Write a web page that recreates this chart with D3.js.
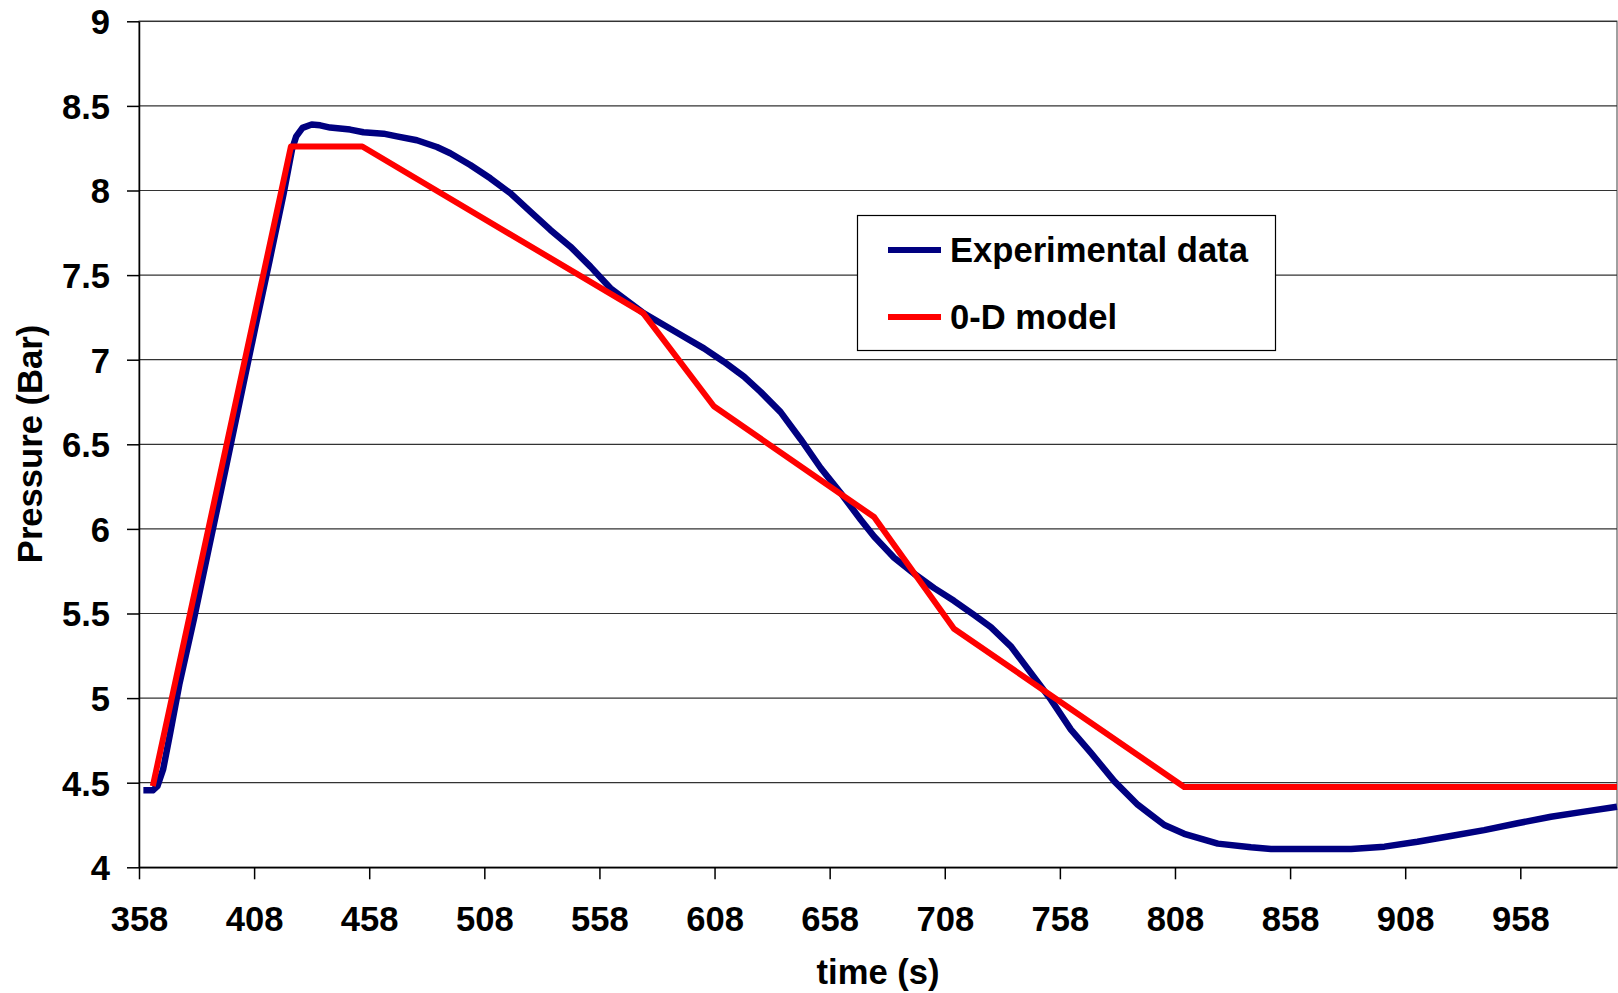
<!DOCTYPE html>
<html>
<head>
<meta charset="utf-8">
<script src="https://cdn.jsdelivr.net/npm/d3@7"></script>
<style>
  body { margin: 0; background: #fff; }
  svg { display: block; font-family: "Liberation Sans", Arial, sans-serif; font-weight: bold; }
</style>
</head>
<body>
<div id="chart"></div>
<script>
// data
var expTime = [359.9, 364, 366, 368.5, 371.5, 375.5, 382, 388.5, 395.5, 402, 408.5, 414.7, 420.8, 424.5, 426.3, 429, 433, 436.7, 441, 449.7, 455.5, 464.2, 470, 478.7, 487.4, 493.2, 501.9, 510.6, 519.3, 528, 536.7, 545.4, 554.1, 562.8, 571.5, 577.3, 586, 594.7, 603.4, 612, 620.8, 628, 636.7, 645.4, 654.1, 662.8, 671.5, 677.3, 686, 694.7, 703.4, 712, 720.7, 728, 736.7, 745.4, 754.1, 762.8, 771.5, 781.7, 791.8, 797.6, 803.4, 812, 826.6, 841, 849.7, 884.5, 899, 913.3, 927.8, 942.3, 956.8, 971.3, 985.8, 1000];
var expPressure = [4.455, 4.455, 4.48, 4.58, 4.79, 5.08, 5.476, 5.897, 6.346, 6.768, 7.19, 7.585, 7.98, 8.244, 8.32, 8.37, 8.39, 8.385, 8.372, 8.36, 8.344, 8.336, 8.32, 8.297, 8.257, 8.22, 8.151, 8.072, 7.984, 7.875, 7.767, 7.668, 7.55, 7.422, 7.333, 7.274, 7.205, 7.136, 7.067, 6.988, 6.9, 6.81, 6.69, 6.53, 6.36, 6.212, 6.054, 5.955, 5.83, 5.735, 5.65, 5.575, 5.492, 5.42, 5.306, 5.149, 4.991, 4.814, 4.676, 4.508, 4.37, 4.31, 4.25, 4.198, 4.14, 4.118, 4.108, 4.108, 4.122, 4.151, 4.185, 4.22, 4.26, 4.299, 4.329, 4.358];

var modelTime = [364, 424, 455, 577, 607.7, 677.3, 712, 812, 1000];
var modelPressure = [4.48, 8.26, 8.26, 7.275, 6.725, 6.07, 5.41, 4.475, 4.475];

var xTicks = [358, 408, 458, 508, 558, 608, 658, 708, 758, 808, 858, 908, 958];
var yTicks = [4, 4.5, 5, 5.5, 6, 6.5, 7, 7.5, 8, 8.5, 9];

var seriesNames = ["Experimental data", "0-D model"];
var seriesColors = ["#000080", "#ff0000"];

var svgWidth = 1618;
var svgHeight = 993;
var margin = { top: 21.3, right: 1, bottom: 125.7, left: 139 };
var width = svgWidth - margin.left - margin.right;
var height = svgHeight - margin.top - margin.bottom;
var fontSize = "34.6px";

var svg = d3.select("#chart")
  .append("svg")
  .attr("width", svgWidth)
  .attr("height", svgHeight);

var chartGroup = svg.append("g")
  .attr("transform", `translate(${margin.left}, ${margin.top})`);

// scales
var xScale = d3.scaleLinear().domain([358, 1000]).range([0, width]);
var yScale = d3.scaleLinear().domain([4, 9]).range([height, 0]);

// plot area border (grey, like excel)
chartGroup.append("rect")
  .attr("x", 0)
  .attr("y", 0)
  .attr("width", width)
  .attr("height", height)
  .attr("fill", "none")
  .attr("stroke", "#808080")
  .attr("stroke-width", 1.5);

// horizontal grid lines
chartGroup.append("g")
  .selectAll("line")
  .data(yTicks)
  .enter()
  .append("line")
  .attr("x1", 0)
  .attr("x2", width)
  .attr("y1", d => yScale(d))
  .attr("y2", d => yScale(d))
  .attr("stroke", "#333")
  .attr("stroke-width", 1.2);

// axes
var xAxis = d3.axisBottom(xScale).tickValues(xTicks).tickSize(12).tickSizeOuter(0).tickPadding(27);
var yAxis = d3.axisLeft(yScale).tickValues(yTicks).tickSize(12).tickSizeOuter(0).tickPadding(17)
  .tickFormat(d3.format("~g"));

var xAxisGroup = chartGroup.append("g")
  .attr("transform", `translate(0, ${height})`)
  .call(xAxis);
var yAxisGroup = chartGroup.append("g")
  .call(yAxis);

[xAxisGroup, yAxisGroup].forEach(function(g) {
  g.selectAll("path, line").attr("stroke", "#000").attr("stroke-width", 1.5);
  g.selectAll("text")
    .attr("fill", "#000")
    .style("font-size", fontSize)
    .style("font-weight", "bold")
    .style("font-family", "'Liberation Sans', Arial, sans-serif");
});
yAxisGroup.selectAll("text").attr("dy", "0.36em");
xAxisGroup.selectAll("text").attr("dy", "0.71em");

// lines
var line = d3.line()
  .x(d => xScale(d[0]))
  .y(d => yScale(d[1]));

var expData = expTime.map((t, i) => [t, expPressure[i]]);
var modelData = modelTime.map((t, i) => [t, modelPressure[i]]);

chartGroup.append("path")
  .datum(expData)
  .attr("d", line)
  .attr("fill", "none")
  .attr("stroke", seriesColors[0])
  .attr("stroke-width", 6.5)
  .attr("stroke-linejoin", "round");

chartGroup.append("path")
  .datum(modelData)
  .attr("d", line)
  .attr("fill", "none")
  .attr("stroke", seriesColors[1])
  .attr("stroke-width", 6)
  .attr("stroke-linejoin", "round");

// axis titles
svg.append("text")
  .attr("x", margin.left + width / 2)
  .attr("y", 984)
  .attr("text-anchor", "middle")
  .style("font-size", fontSize)
  .text("time (s)");

svg.append("text")
  .attr("transform", "translate(42, 444) rotate(-90)")
  .attr("text-anchor", "middle")
  .style("font-size", fontSize)
  .text("Pressure (Bar)");

// legend
var legend = svg.append("g");
legend.append("rect")
  .attr("x", 857.5)
  .attr("y", 215.5)
  .attr("width", 418)
  .attr("height", 135)
  .attr("fill", "#fff")
  .attr("stroke", "#000")
  .attr("stroke-width", 1.2);

var legendItems = legend.selectAll(".item")
  .data(seriesNames)
  .enter()
  .append("g")
  .attr("transform", (d, i) => `translate(888, ${250 + i * 67})`);

legendItems.append("line")
  .attr("x1", 0)
  .attr("x2", 53)
  .attr("stroke", (d, i) => seriesColors[i])
  .attr("stroke-width", 6);

legendItems.append("text")
  .attr("x", 62)
  .attr("dy", "0.36em")
  .style("font-size", fontSize)
  .text(d => d);
</script>
</body>
</html>
